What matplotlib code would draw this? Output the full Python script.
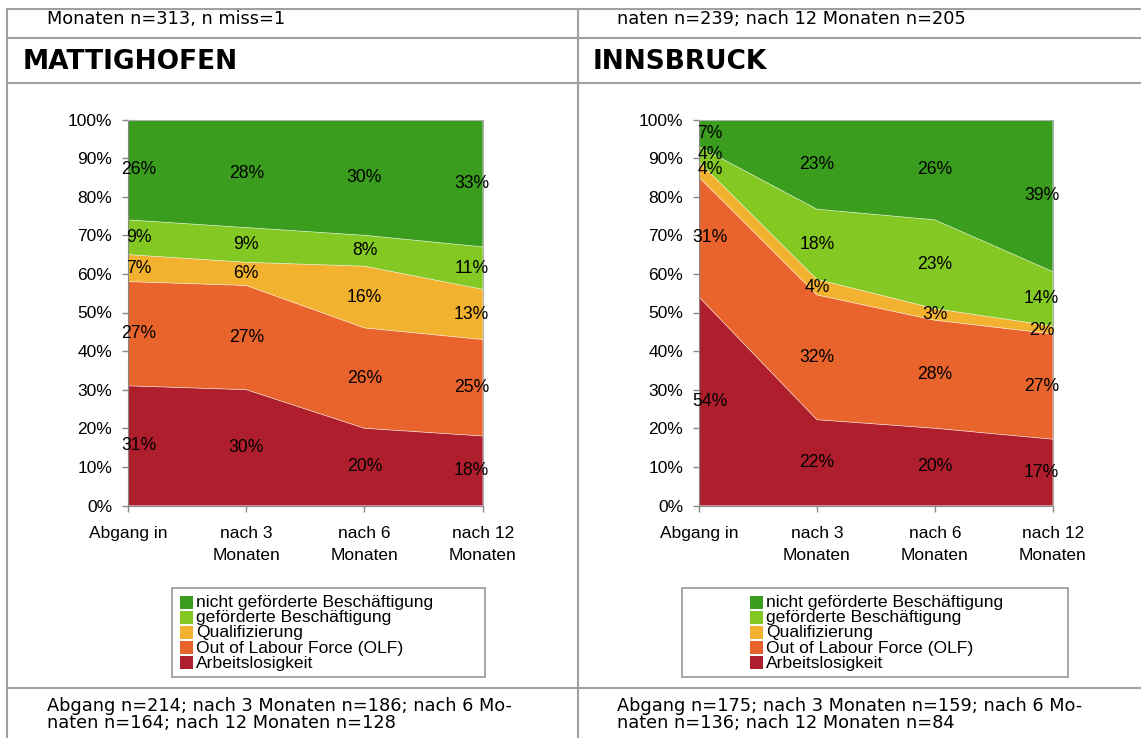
import numpy as np
import matplotlib.pyplot as plt
from matplotlib.lines import Line2D
from matplotlib.patches import Rectangle

# Werte in Prozent (gerundet, wie beschriftet)
kategorien = ['Abgang in', 'nach 3\nMonaten', 'nach 6\nMonaten', 'nach 12\nMonaten']
serien = ['Arbeitslosigkeit', 'Out of Labour Force (OLF)', 'Qualifizierung',
          'geförderte Beschäftigung', 'nicht geförderte Beschäftigung']
farben = ['#AF1E2D', '#E9642C', '#F2B12E', '#83C823', '#3A9D1E']

matt_al = [31, 30, 20, 18]
matt_olf = [27, 27, 26, 25]
matt_qual = [7, 6, 16, 13]
matt_gef = [9, 9, 8, 11]
matt_ngef = [26, 28, 30, 33]

ibk_al = [54, 22, 20, 17]
ibk_olf = [31, 32, 28, 27]
ibk_qual = [4, 4, 3, 2]
ibk_gef = [4, 18, 23, 14]
ibk_ngef = [7, 23, 26, 39]

kopf_links = 'Monaten n=313, n miss=1'
kopf_rechts = 'naten n=239; nach 12 Monaten n=205'
titel_links = 'MATTIGHOFEN'
titel_rechts = 'INNSBRUCK'
fuss_links = ['Abgang n=214; nach 3 Monaten n=186; nach 6 Mo-',
              'naten n=164; nach 12 Monaten n=128']
fuss_rechts = ['Abgang n=175; nach 3 Monaten n=159; nach 6 Mo-',
               'naten n=136; nach 12 Monaten n=84']

plt.rcParams['font.family'] = ['Liberation Sans', 'DejaVu Sans']

W, H = 1141, 738
fig = plt.figure(figsize=(W / 100, H / 100), dpi=100)


def fx(x):
    return x / W


def fy(y):
    return 1 - y / H


def hline(y, x0=7, x1=W, c='#A0A0A0', lw=1.5):
    fig.add_artist(Line2D([fx(x0), fx(x1)], [fy(y), fy(y)], transform=fig.transFigure,
                          color=c, lw=lw))


def vline(x, y0=9, y1=H, c='#A0A0A0', lw=1.5):
    fig.add_artist(Line2D([fx(x), fx(x)], [fy(y0), fy(y1)], transform=fig.transFigure,
                          color=c, lw=lw))


def flaeche(x_left, x_right, werte):
    ax = fig.add_axes([fx(x_left), fy(505.5), (x_right - x_left) / W, (505.5 - 119.5) / H])
    daten = np.array(werte, dtype=float)
    daten = daten / daten.sum(axis=0) * 100
    x = np.arange(len(kategorien))
    ax.stackplot(x, daten, colors=farben, lw=0)
    kum = np.cumsum(daten, axis=0)
    for i in range(len(serien) - 1):
        ax.plot(x, kum[i], color='white', lw=0.5, alpha=0.7)
    unten = np.vstack([np.zeros(len(x)), kum[:-1]])
    for i in range(len(serien)):
        for j in range(len(x)):
            dx = 8 if j == 0 else (-8 if j == len(x) - 1 else 0)
            ax.annotate(f'{werte[i][j]}%', (x[j], unten[i, j] + daten[i, j] / 2),
                        xytext=(dx, 0), textcoords='offset points',
                        ha='center', va='center', fontsize=12.7, color='black')
    ax.set_xlim(0, len(x) - 1)
    ax.set_ylim(0, 100)
    ax.set_yticks(np.arange(0, 101, 10))
    ax.set_yticklabels([f'{v}%' for v in range(0, 101, 10)])
    ax.set_xticks(x)
    ax.set_xticklabels(kategorien, linespacing=1.6)
    ax.tick_params(axis='both', labelsize=12.5, length=4.5, color='#888888', width=1)
    ax.tick_params(axis='y', pad=7)
    ax.tick_params(axis='x', pad=10)
    for s in ['left', 'bottom']:
        ax.spines[s].set_color('#888888')
    for s in ['top', 'right']:
        ax.spines[s].set_color('#B0B0B0')
    return ax


def legende(box_x0, box_x1, quad_x):
    fig.add_artist(Rectangle((fx(box_x0), fy(677)), (box_x1 - box_x0) / W, (677 - 588) / H,
                             transform=fig.transFigure, fill=False, ec='#A0A0A0', lw=1.3))
    for k, i in enumerate(range(len(serien) - 1, -1, -1)):
        top = 595.5 + k * 15.2
        fig.add_artist(Rectangle((fx(quad_x), fy(top + 13)), 12.5 / W, 13 / H,
                                 transform=fig.transFigure, color=farben[i], lw=0))
        fig.text(fx(quad_x + 16), fy(top + 7), serien[i], fontsize=12.6, va='center', ha='left')


flaeche(128, 482.7, [matt_al, matt_olf, matt_qual, matt_gef, matt_ngef])
flaeche(699, 1052.7, [ibk_al, ibk_olf, ibk_qual, ibk_gef, ibk_ngef])

legende(172, 485, 180)
legende(682, 1068, 750)

# Tabellenlinien
for y in [9, 38, 83, 688]:
    hline(y)
vline(7.3)
vline(577.7)

tab = dict(family=['DejaVu Sans'], va='center', ha='left')
fig.text(fx(47), fy(19), kopf_links, fontsize=12.8, **tab)
fig.text(fx(617), fy(19), kopf_rechts, fontsize=12.8, **tab)
fig.text(fx(23), fy(62), titel_links, fontsize=19, fontweight='bold', **tab)
fig.text(fx(593), fy(62), titel_rechts, fontsize=19, fontweight='bold', **tab)
for k in range(2):
    fig.text(fx(47), fy(706 + k * 17), fuss_links[k], fontsize=12.8, **tab)
    fig.text(fx(617), fy(706 + k * 17), fuss_rechts[k], fontsize=12.8, **tab)

fig.savefig('out.png', dpi=100)
